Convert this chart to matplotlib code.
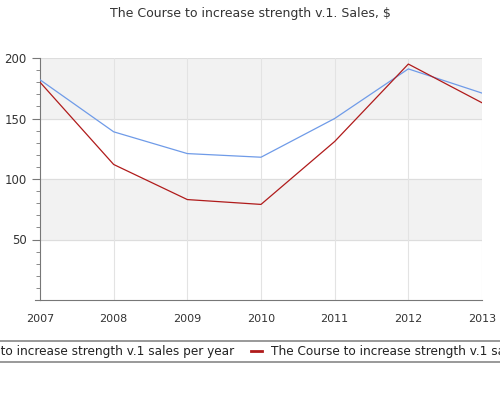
import matplotlib
matplotlib.use("Agg")
import matplotlib.pyplot as plt
from matplotlib.ticker import MultipleLocator

years = [2007, 2008, 2009, 2010, 2011, 2012, 2013]
per_year = [182, 139, 121, 118, 150, 191, 171]
course = [180, 112, 83, 79, 131, 195, 163]
label_blue = "The Course to increase strength v.1 sales per year"
label_red = "The Course to increase strength v.1 sales"

plt.rcParams.update({"font.family": "DejaVu Sans", "font.size": 8})
fig = plt.figure(figsize=(5, 4), dpi=100)
ax = fig.add_axes([0.08, 0.25, 0.884, 0.605])

for lo, hi in [(150, 200), (50, 100)]:
    ax.axhspan(lo, hi, color="#f2f2f2", zorder=0)
for y in [50, 100, 150, 200]:
    ax.axhline(y, color="#dddddd", lw=0.8, zorder=1)
for x in years[1:]:
    ax.axvline(x, color="#e3e3e3", lw=0.8, zorder=1)

ax.plot(years, per_year, color="#6f9be8", lw=0.9, zorder=3)
ax.plot(years, course, color="#b01b1b", lw=0.9, zorder=3)

ax.set_xlim(2007, 2013)
ax.set_ylim(0, 200)
ax.set_xticks(years)
ax.set_yticks([50, 100, 150, 200])
ax.yaxis.set_minor_locator(MultipleLocator(10))
ax.tick_params(axis="y", which="major", length=6, color="#777777", labelcolor="#333333", labelsize=8.5)
ax.tick_params(axis="y", which="minor", length=3, color="#777777")
ax.tick_params(axis="x", length=0, pad=10, labelcolor="#333333", labelsize=8)
for s in ["top", "right"]:
    ax.spines[s].set_visible(False)
ax.spines["left"].set_color("#777777")
ax.spines["bottom"].set_color("#777777")
fig.add_artist(plt.Line2D([0.07, 0.08], [0.25, 0.25], color="#777777", lw=0.8, transform=fig.transFigure))

fig.text(0.5, 0.965, "The Course to increase strength v.1. Sales, $", ha="center", va="center",
         fontsize=9, color="#333333")

# legend strip, wider than the figure and clipped at the edges (as in the reference)
fig.add_artist(plt.Line2D([0, 1], [0.148, 0.148], color="#888888", lw=1.2, transform=fig.transFigure))
fig.add_artist(plt.Line2D([0, 1], [0.095, 0.095], color="#888888", lw=1.2, transform=fig.transFigure))
fig.text(0.468, 0.1215, label_blue, ha="right", va="center", fontsize=8.7, color="#222222")
fig.add_artist(plt.Line2D([0.502, 0.524], [0.1215, 0.1215], color="#b01b1b", lw=2, transform=fig.transFigure))
fig.text(0.542, 0.1215, label_red, ha="left", va="center", fontsize=8.7, color="#222222")

fig.savefig("out.png", dpi=100)
